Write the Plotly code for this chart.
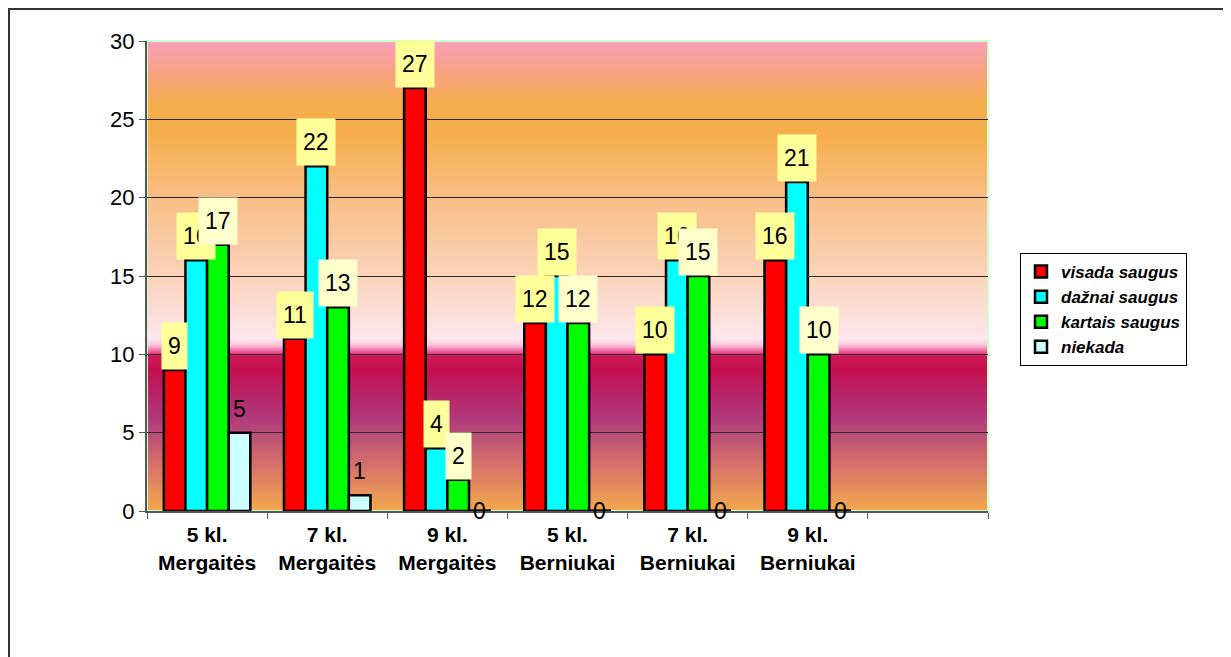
import plotly.graph_objects as go

categories = ["5 kl.<br>Mergaitės", "7 kl.<br>Mergaitės", "9 kl.<br>Mergaitės",
              "5 kl.<br>Berniukai", "7 kl.<br>Berniukai", "9 kl.<br>Berniukai", " "]
series_names = ["visada saugus", "dažnai saugus", "kartais saugus", "niekada"]
visada = [9, 11, 27, 12, 10, 16, None]
daznai = [16, 22, 4, 15, 16, 21, None]
kartais = [17, 13, 2, 12, 15, 10, None]
niekada = [5, 1, 0, 0, 0, 0, None]
y_ticks = [0, 5, 10, 15, 20, 25, 30]

series_values = [visada, daznai, kartais, niekada]
bar_colors = ["#FF0000", "#00FFFF", "#00FF00", "#CCFFFF"]
label_bg = ["#FFFF99", "#FFFF99", "#FFFFCC", None]

# background gradient stops (y value, colour)
GRAD = [
    (0.0, "#F4AA4E"), (3.0, "#D4706A"), (5.0, "#B84C78"), (6.0, "#B2387C"),
    (7.5, "#B82468"), (9.0, "#C4104E"), (9.9, "#D01858"), (10.2, "#F060A0"),
    (10.6, "#FBC8DC"), (11.0, "#FDE6EE"), (12.5, "#FCDFDA"), (15.0, "#FBD3BA"),
    (20.0, "#F8BE86"), (24.0, "#F6AE4C"), (26.0, "#F5AE4C"), (28.0, "#F7A282"),
    (30.0, "#F8A0BC"),
]

# page body has an 8px margin, so the figure is laid out 8px in from the window
PAGE_OFF = 8
W, H = 1231 - PAGE_OFF, 657 - PAGE_OFF
PL, PT, PW, PH = 147, 41, 841, 470  # plot area in window pixels


def _hex(c):
    return tuple(int(c[i:i + 2], 16) for i in (1, 3, 5))


def _grad_color(v):
    for (y0, c0), (y1, c1) in zip(GRAD[:-1], GRAD[1:]):
        if y0 <= v <= y1:
            t = (v - y0) / (y1 - y0)
            a, b = _hex(c0), _hex(c1)
            return "rgb(%d,%d,%d)" % tuple(round(a[k] + (b[k] - a[k]) * t) for k in range(3))
    return GRAD[-1][1]


def px_x(p):
    return (p - PL) / PW


def px_y(p):
    return (PT + PH - p) / PH


fig = go.Figure()

width = 0.18
for i, (name, vals) in enumerate(zip(series_names, series_values)):
    fig.add_trace(go.Bar(
        x=categories, y=vals, name=name,
        width=width, offset=-0.36 + i * width,
        marker=dict(color=bar_colors[i], line=dict(color="black", width=2.5)),
    ))

# data labels
annotations = []
shapes = []
for i, vals in enumerate(series_values):
    for j, v in enumerate(vals):
        if v is None:
            continue
        left = j - 0.36 + i * width
        annotations.append(dict(
            x=left + width / 2, y=v, xref="x", yref="y",
            text=str(v), showarrow=False,
            yanchor="middle" if v == 0 else "bottom",
            font=dict(family="Arial, Liberation Sans", size=23, color="black"),
            bgcolor=label_bg[i] if label_bg[i] else "rgba(0,0,0,0)",
            height=34, borderpad=6,
        ))
        if v == 0:
            # zero-height bar still shows its outline as a flat black line
            shapes.append(dict(type="line", xref="x", yref="y", x0=left, x1=left + width,
                               y0=v, y1=v, line=dict(color="black", width=3)))

# gradient background + borders
bg = []
step = 0.1
n = int(30 / step)
for k in range(n):
    y0 = k * step
    bg.append(dict(type="rect", xref="x domain", yref="y", x0=0, x1=1,
                   y0=y0, y1=min(y0 + 2 * step, 30), fillcolor=_grad_color(y0 + step / 2),
                   line=dict(width=0), layer="below"))
bg.append(dict(type="rect", xref="paper", yref="paper", x0=0, x1=1, y0=0, y1=1,
               line=dict(color="#CCFFCC", width=2), layer="below"))
bg.append(dict(type="rect", xref="paper", yref="paper",
               x0=px_x(9), x1=px_x(1225), y0=px_y(670), y1=px_y(PAGE_OFF + 1),
               line=dict(color="#333333", width=2)))

fig.update_layout(
    width=W, height=H,
    margin=dict(l=PL - PAGE_OFF, r=W - (PL - PAGE_OFF) - PW,
                t=PT - PAGE_OFF, b=H - (PT - PAGE_OFF) - PH),
    paper_bgcolor="white", plot_bgcolor="rgba(0,0,0,0)",
    barmode="overlay", showlegend=True,
    annotations=annotations, shapes=bg + shapes,
    font=dict(family="Arial, Liberation Sans", color="black"),
    legend=dict(
        x=px_x(1020), y=px_y(253), xanchor="left", yanchor="top",
        bgcolor="white", bordercolor="black", borderwidth=1,
        font=dict(family="Arial, Liberation Sans", size=17, style="italic", weight="bold"),
        tracegroupgap=1,
    ),
)
fig.update_xaxes(
    type="category", categoryorder="array", categoryarray=categories,
    range=[-0.5, 6.5], tickson="boundaries", ticks="outside", ticklen=6,
    tickcolor="#555555", showline=True, linecolor="#555555", linewidth=2,
    showgrid=False, ticklabelstandoff=4,
    tickfont=dict(family="Arial, Liberation Sans", size=21, weight="bold"),
)
fig.update_yaxes(
    range=[0, 30], tickvals=y_ticks, ticks="outside", ticklen=6,
    tickcolor="#555555", showline=True, linecolor="#555555", linewidth=2,
    showgrid=True, gridcolor="#2a2a2a", gridwidth=1, zeroline=False,
    tickfont=dict(family="Arial, Liberation Sans", size=22),
)

fig.write_html("out.html")
